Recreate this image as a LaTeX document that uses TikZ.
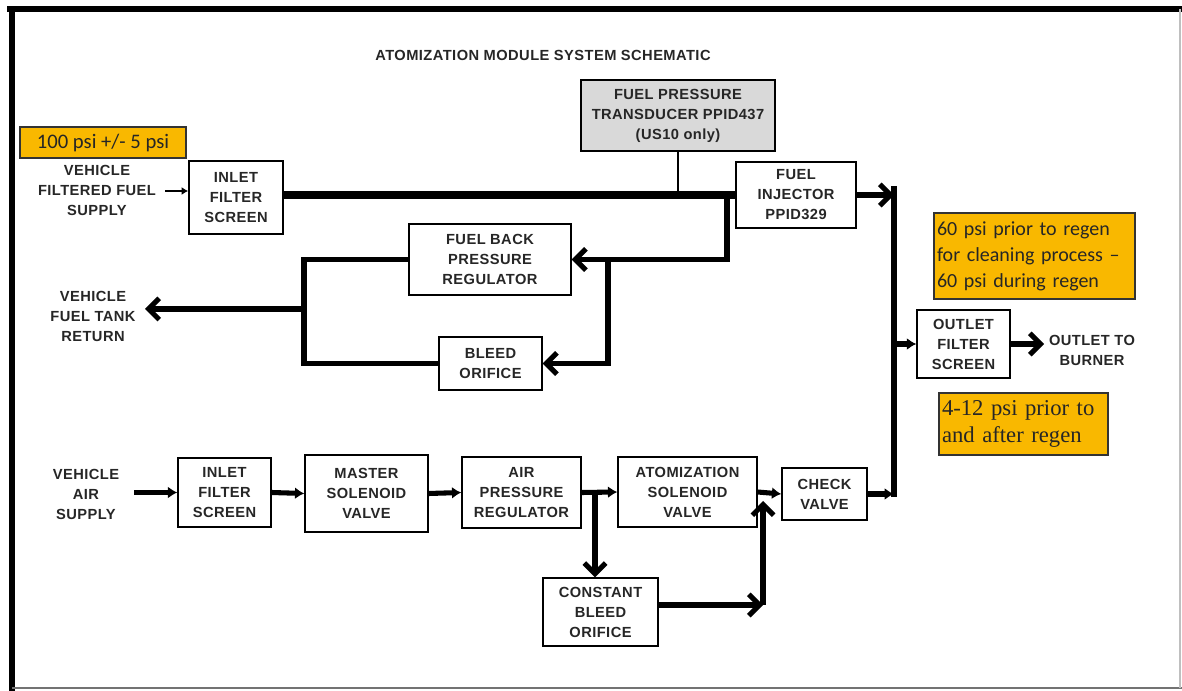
\documentclass[tikz,border=0pt]{standalone}
\usepackage{fontspec}
\setmainfont{Liberation Sans}
\newfontfamily\boxfont{Liberation Sans}[LetterSpace=3]
\newfontfamily\calfont{Carlito}
\newfontfamily\serfont{Liberation Serif}
\usetikzlibrary{arrows.meta}
\definecolor{gold}{HTML}{F9B800}
\definecolor{tgray}{HTML}{D9D9D9}
\tikzset{
 chev/.tip={Straight Barb[length=8pt,width=16pt]},
 sm/.tip={Latex[length=7pt,width=9pt]},
 smt/.tip={Latex[length=5pt,width=6pt]},
 lbl/.style={font=\boxfont\bfseries\fontsize{11}{15}\selectfont, align=center, text=black!85},
 box/.style={lbl, draw, line width=1.1pt, inner sep=0pt, fill=white},
 note/.style={draw=black!80, line width=1.2pt, fill=gold, inner sep=3pt, text=black!85},
 rect/.style n args={4}{at={({(#1+#3)/2},{(#2+#4)/2})},
   minimum width={(#3-#1)*0.75pt}, minimum height={(#4-#2)*0.75pt}},
 flow/.style={line width=3.8pt},
 mainflow/.style={line width=5.3pt},
 thinflow/.style={line width=1.6pt},
}
\begin{document}
\begin{tikzpicture}[x=0.75pt,y=-0.75pt]
\useasboundingbox (0,0) rectangle (1182,691);
% frame
\draw[line width=4.5pt] (7,9) -- (1182,9);
\draw[line width=4.5pt] (12,7) -- (12,691);
\draw[black!55,line width=1.2pt] (12,688) -- (1182,688);
\draw[black!25,line width=1pt] (1180,9) -- (1180,688);

\node[lbl] (title) at (543,55) {ATOMIZATION MODULE SYSTEM SCHEMATIC};

% fuel side
\node[note, rect={20}{127}{186}{158}, font=\calfont\fontsize{15.5}{18}\selectfont] (p100) {100 psi +/- 5 psi};
\node[lbl] (vffs) at (97,190) {VEHICLE\\FILTERED FUEL\\SUPPLY};
\node[box, rect={189}{161}{283}{234}] (ifsF) {INLET\\FILTER\\SCREEN};
\node[box, fill=tgray, rect={581}{80}{775}{151}] (fpt) {FUEL PRESSURE\\TRANSDUCER PPID437\\(US10 only)};
\node[box, rect={736}{162}{856}{228}] (inj) {FUEL\\INJECTOR\\PPID329};
\node[box, rect={409}{224}{571}{295}] (fbpr) {FUEL BACK\\PRESSURE\\REGULATOR};
\node[box, rect={439}{337}{542}{390}] (bo) {BLEED\\ORIFICE};
\node[lbl] (vftr) at (93,316) {VEHICLE\\FUEL TANK\\RETURN};
\node[box, rect={917}{310}{1010}{378}] (ofs) {OUTLET\\FILTER\\SCREEN};
\node[lbl] (otb) at (1092,350) {OUTLET TO\\BURNER};
\node[note, rect={934}{213}{1135}{299}, align=left, inner sep=2pt, text width=195*0.75pt, font=\calfont\fontsize{15}{19.5}\selectfont] (p60) {60 psi prior to regen\\for cleaning process –\\60 psi during regen};
\node[note, rect={939}{393}{1108}{455}, align=left, inner sep=2pt, text width=163*0.75pt, font=\serfont\fontsize{17}{20}\selectfont] (p4) {4-12 psi prior to\\and after regen};

% air side
\node[lbl] (vas) at (86,494) {VEHICLE\\AIR\\SUPPLY};
\node[box, rect={178}{458}{271}{527}] (ifsA) {INLET\\FILTER\\SCREEN};
\node[box, rect={305}{455}{428}{532}] (msv) {MASTER\\SOLENOID\\VALVE};
\node[box, rect={462}{457}{581}{528}] (apr) {AIR\\PRESSURE\\REGULATOR};
\node[box, rect={618}{457}{757}{527}] (asv) {ATOMIZATION\\SOLENOID\\VALVE};
\node[box, rect={543}{578}{658}{646}] (cbo) {CONSTANT\\BLEED\\ORIFICE};
\node[box, rect={782}{468}{867}{520}] (cv) {CHECK\\VALVE};

% coordinates
\coordinate (vin) at (165,191);
\coordinate (bus) at (894,186);
\coordinate (busb) at (894,497);
\coordinate (ja) at (727,195);
\coordinate (jr1) at (727,259.5);
\coordinate (jr2) at (608,259.5);
\coordinate (jr3) at (608,363.5);
\coordinate (jl1) at (304,259.5);
\coordinate (jl2) at (304,363.5);
\coordinate (jl3) at (304,309);
\coordinate (ret) at (145,309);
\coordinate (ao) at (1044,344);
\coordinate (ain) at (134,492.5);
\coordinate (jb) at (595,492.5);
\coordinate (jc) at (763,605);
\coordinate (jd) at (763,501);

% fuel connectors
\draw[thinflow,-smt] (vin) -- (ifsF.west |- vin);
\draw[mainflow] (ifsF.east |- ja) -- (inj.west |- ja);
\draw[thinflow] (fpt.south) -- (fpt.south |- ja);
\draw[flow,-chev] (inj.east |- ja) -- (bus |- ja);
\draw[flow] (bus) -- (busb);
\draw[flow,-chev] (ja) -- (jr1) -- (fbpr.east);
\draw[flow,-chev] (jr2) -- (jr3) -- (bo.east);
\draw[flow] (fbpr.west) -- (jl1) -- (jl2) -- (bo.west);
\draw[flow,-chev] (jl3) -- (ret);
\draw[flow,-sm] (bus |- ofs.west) -- (ofs.west);
\draw[flow,-chev] (ofs.east) -- (ao);

% air connectors
\draw[flow,-sm] (ain) -- (ifsA.west);
\draw[flow,-sm] (ifsA.east) -- (msv.west);
\draw[flow,-sm] (msv.east) -- (apr.west);
\draw[flow,-sm] (apr.east) -- (asv.west);
\draw[flow,-chev] (jb) -- (jb |- cbo.north);
\draw[flow,-sm] (asv.east) -- (cv.west);
\draw[flow,-chev] (cbo.east |- jc) -- (jc);
\draw[flow,-chev] (jc) -- (jd);
\draw[flow,-sm] (cv.east) -- (busb |- cv.east);
\end{tikzpicture}
\end{document}
